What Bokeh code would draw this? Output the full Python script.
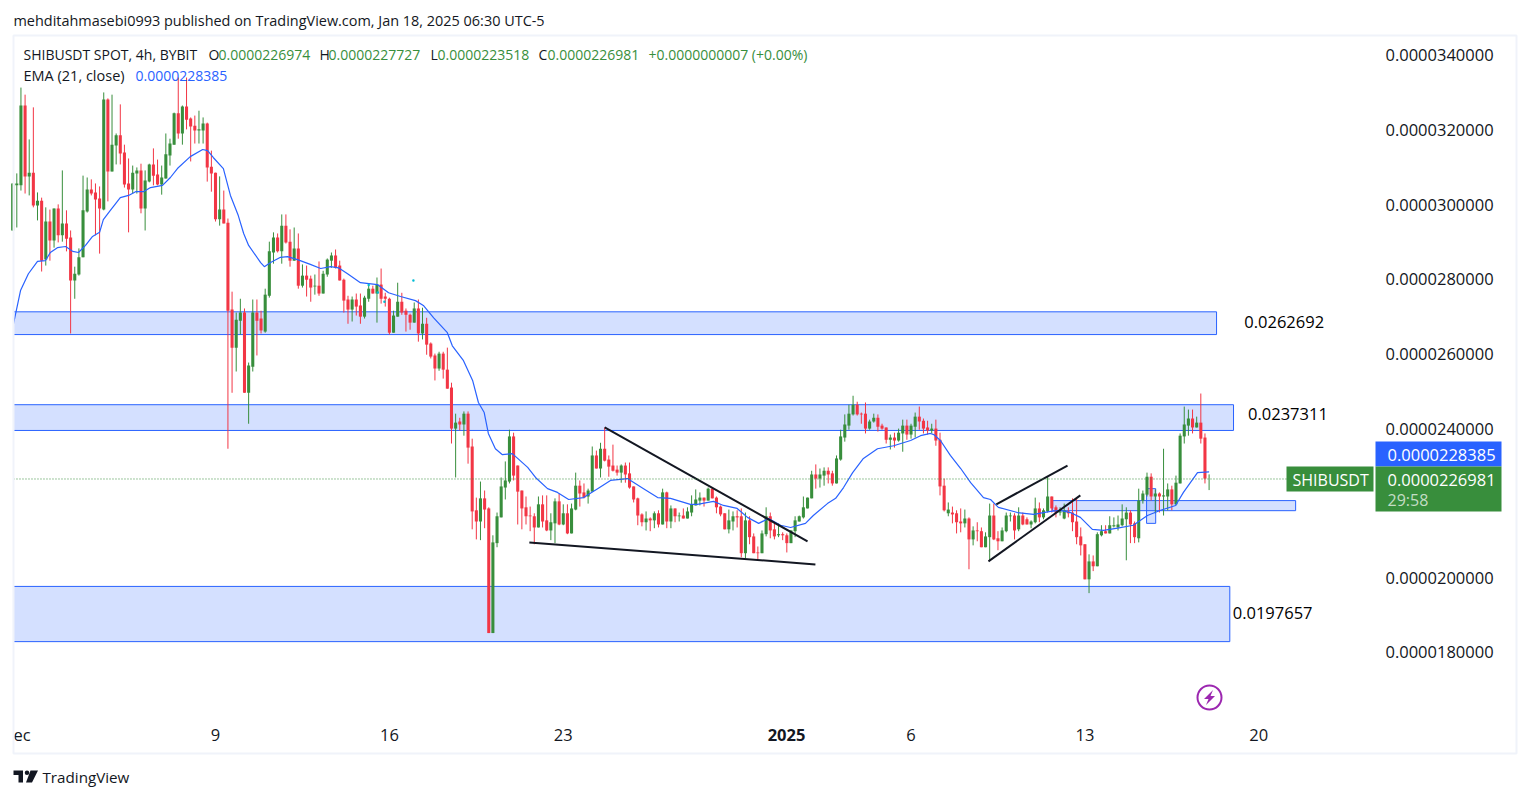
from bokeh.embed import file_html
from bokeh.resources import INLINE
from bokeh.plotting import figure
from bokeh.models import ColumnDataSource, FixedTicker, Label, BoxAnnotation, Range1d
from bokeh.core.properties import value

FONT = "Open Sans"
UP = "#388e3c"
DOWN = "#f23645"
BLUE = "#2962ff"
DARK = "#131722"

# prices are in millionths of a USDT
opens = [29.31,30.52,30.52,32.66,30.76,30.86,29.98,30.11,28.53,29.55,
29.04,29.90,29.18,29.50,29.12,27.97,28.13,28.59,29.82,30.41,
30.33,30.17,29.87,32.82,30.89,31.59,31.86,31.40,30.57,30.41,
30.84,30.92,29.90,30.62,31.08,30.81,30.54,30.70,31.32,31.61,
32.45,31.91,32.63,32.31,32.12,31.99,31.99,32.18,31.02,30.86,
29.61,29.87,29.52,27.19,26.17,26.89,27.11,24.96,25.66,27.11,
26.95,26.60,27.56,28.72,29.12,28.75,29.44,29.01,28.50,28.83,
27.83,28.10,28.02,27.81,27.83,27.62,28.13,28.50,28.64,28.37,
27.99,27.46,27.19,27.46,27.30,27.00,27.48,27.75,27.62,27.86,
27.54,27.48,26.57,27.00,27.40,27.16,27.05,26.84,27.22,26.55,
26.81,26.28,25.96,25.61,26.01,25.58,25.10,24.00,24.19,24.11,
24.40,23.52,21.81,21.51,22.13,21.86,18.52,20.93,21.62,22.42,
22.58,23.79,23.01,22.34,21.89,21.67,21.65,21.35,21.97,21.54,
21.27,21.46,22.05,21.43,21.73,21.19,21.83,22.47,22.29,22.18,
22.31,23.28,22.93,23.46,23.17,23.01,22.90,22.82,23.01,22.80,
22.45,22.13,21.70,21.49,21.59,21.54,21.73,21.43,22.29,21.51,
21.86,21.65,21.67,21.59,21.75,21.94,22.07,22.15,22.07,22.39,
22.15,21.91,21.73,21.30,21.51,21.65,21.65,20.66,21.54,21.11,
20.68,20.66,21.17,21.65,21.30,21.14,21.17,21.14,20.93,21.25,
21.51,21.62,21.86,22.13,22.77,22.66,22.74,22.87,22.80,22.53,
23.17,23.76,24.08,24.38,24.64,24.40,24.40,24.00,24.19,24.29,
24.08,24.03,23.70,23.76,23.68,23.87,24.08,23.84,24.05,24.32,
24.21,24.03,23.95,24.00,23.70,22.47,21.73,21.75,21.73,21.51,
21.46,21.59,21.03,21.27,21.25,20.82,21.09,21.67,21.06,20.98,
21.25,21.65,21.67,21.30,21.67,21.57,21.43,21.49,21.86,21.62,
21.78,22.18,21.89,21.75,21.59,21.78,21.75,21.51,21.11,20.90,
19.96,20.44,20.31,21.14,21.25,21.19,21.38,21.35,21.41,21.57,
21.75,21.46,21.06,22.07,22.23,22.71,22.18,22.26,22.18,22.18,
22.37,21.97,22.53,23.79,24.08,24.27,24.03,24.16,23.76,22.6974]

highs = [30.57,30.84,33.14,32.95,31.75,32.61,30.33,30.19,29.93,29.87,
29.90,30.01,30.92,29.85,29.31,28.34,28.83,30.78,30.73,30.68,
30.57,30.49,33.01,32.85,32.95,31.91,32.69,31.61,31.24,31.05,
31.00,31.10,30.92,31.10,31.51,31.21,31.05,31.91,31.77,32.47,
33.41,32.66,33.41,32.34,32.39,32.52,32.34,32.20,31.45,30.86,
30.76,30.38,29.63,27.67,27.11,27.48,27.22,25.77,27.46,27.46,
27.16,27.75,29.01,29.26,29.23,29.74,29.74,29.34,29.39,29.23,
28.40,28.37,28.10,28.13,28.48,28.23,28.56,28.72,28.80,28.50,
28.02,27.56,27.54,27.62,27.62,27.56,27.83,27.83,28.05,28.29,
27.64,27.51,27.16,27.91,27.64,27.22,27.08,27.38,27.46,27.24,
26.97,26.31,26.01,26.06,26.06,26.17,25.23,24.40,24.29,24.46,
24.46,23.73,22.15,22.58,22.34,21.89,21.14,21.75,22.69,23.12,
23.97,23.89,23.01,22.34,22.18,21.91,21.73,22.18,22.21,22.21,
21.73,22.13,22.26,21.97,21.97,21.99,22.82,22.61,22.53,22.39,
23.52,23.41,23.62,24.03,23.28,23.57,23.01,23.04,23.09,23.09,
22.45,22.15,21.73,21.78,21.62,21.78,21.81,22.39,22.31,21.94,
21.86,21.75,21.86,21.89,22.21,22.37,22.29,22.15,22.42,22.42,
22.18,21.94,21.73,21.83,21.78,21.81,21.86,21.75,21.65,21.19,
20.84,21.27,21.89,21.75,21.46,21.46,21.22,21.19,21.27,21.65,
21.67,22.18,22.15,22.87,23.04,22.93,22.96,22.96,22.87,23.28,
23.97,24.38,24.64,24.88,24.72,24.43,24.70,24.24,24.40,24.38,
24.13,24.03,23.84,23.89,24.00,24.24,24.24,24.13,24.43,24.59,
24.27,24.21,24.13,24.24,23.89,22.66,22.02,21.91,21.81,21.86,
21.83,21.62,21.38,21.49,21.35,21.22,21.99,21.99,21.25,21.35,
21.75,21.75,21.73,21.89,21.75,21.62,21.54,22.15,22.02,21.86,
22.71,22.18,21.94,21.89,21.99,21.89,22.13,22.15,21.35,20.90,
20.63,20.60,21.22,21.41,21.41,21.65,21.62,21.67,21.97,21.89,
21.81,21.51,22.39,22.34,22.82,22.80,22.37,22.29,23.46,22.53,
22.47,22.74,23.87,24.59,24.51,24.51,24.32,24.94,23.87,22.7727]

lows = [29.31,29.39,30.38,30.30,30.25,29.93,29.58,28.21,28.37,28.50,
28.85,28.99,29.01,28.75,26.55,27.48,28.10,28.59,29.79,30.25,
29.18,28.69,29.85,30.09,30.89,31.08,31.08,30.46,29.26,30.30,
30.30,29.77,29.31,30.60,30.52,30.52,30.27,30.70,31.05,31.61,
31.77,31.61,32.02,31.16,31.64,31.64,31.64,30.62,30.35,29.55,
29.44,29.50,23.46,24.96,25.53,26.52,24.96,24.13,25.53,25.96,
26.55,26.57,27.51,28.42,28.72,28.42,28.96,28.34,28.50,27.75,
27.78,27.54,27.40,27.59,27.56,27.62,28.07,28.31,28.29,27.97,
27.11,26.81,26.87,27.03,26.81,26.95,27.40,27.62,26.84,27.35,
27.27,26.52,26.57,27.00,27.05,26.60,26.65,26.84,26.33,26.39,
25.98,25.88,25.29,25.55,25.34,25.07,23.60,22.69,23.95,23.81,
23.06,21.30,21.03,21.01,21.33,18.52,18.52,20.82,21.62,22.10,
22.53,22.61,21.43,21.30,21.43,21.25,20.90,21.35,21.35,21.25,
21.01,20.93,21.41,21.41,21.17,21.19,21.81,21.91,22.13,21.99,
22.31,22.93,22.69,23.12,22.71,22.85,22.74,22.55,22.55,22.39,
22.02,21.41,21.38,21.27,21.25,21.33,21.35,21.43,21.33,21.33,
21.49,21.51,21.59,21.59,21.65,21.94,21.94,21.91,22.07,22.13,
21.73,21.65,21.30,21.19,21.27,21.35,20.55,20.52,20.90,20.66,
20.50,20.66,21.11,21.06,21.03,21.09,21.01,20.68,20.93,21.09,
21.51,21.59,21.86,22.13,22.39,22.42,22.47,22.53,22.47,22.53,
23.14,23.65,23.97,24.35,24.35,24.13,23.87,23.97,24.16,23.92,
23.97,23.60,23.44,23.49,23.65,23.38,23.70,23.73,23.76,23.97,
23.87,23.84,23.87,23.54,22.21,21.78,21.65,21.46,21.19,21.22,
21.35,20.23,20.87,20.98,20.82,20.82,20.47,21.01,20.74,20.98,
21.22,21.51,21.03,21.25,21.41,21.43,21.33,21.46,21.49,21.57,
21.75,21.75,21.62,21.67,21.57,21.62,21.25,20.90,20.60,19.96,
19.59,20.18,20.31,21.11,21.19,21.19,21.35,21.27,21.38,20.47,
20.93,20.93,20.95,21.99,22.18,22.07,21.73,21.75,21.67,21.81,
21.81,21.94,22.53,23.60,23.81,23.87,24.03,23.60,22.53,22.3518]

closes = [30.57,30.57,32.66,30.76,30.86,29.98,30.11,28.50,29.55,29.04,
29.90,29.18,29.50,29.09,27.97,28.15,28.59,29.85,30.41,30.30,
30.14,29.90,32.82,30.89,31.61,31.86,31.37,30.54,30.41,30.86,
30.92,29.90,30.65,31.08,30.78,30.54,30.73,31.35,31.64,32.45,
31.91,32.63,32.28,32.10,31.99,32.02,32.18,31.00,30.84,29.61,
29.87,29.50,27.16,26.17,26.92,27.11,24.96,25.69,27.11,26.89,
26.63,27.59,28.75,29.12,28.75,29.44,28.99,28.50,28.83,27.83,
28.10,27.99,27.78,27.83,27.62,28.15,28.53,28.64,28.31,27.97,
27.43,27.19,27.46,27.27,27.00,27.51,27.75,27.62,27.86,27.48,
27.48,26.57,27.03,27.40,27.11,27.05,26.84,27.22,26.55,26.81,
26.25,25.93,25.61,26.01,25.58,25.07,24.00,24.16,24.11,24.40,
23.49,21.78,21.51,22.13,21.83,18.52,20.95,21.65,22.45,22.61,
23.79,22.74,22.31,21.86,21.65,21.65,21.35,21.97,21.51,21.27,
21.49,22.05,21.43,21.73,21.19,21.86,22.47,22.26,22.15,22.34,
23.28,22.93,23.46,23.14,22.98,22.87,22.82,23.01,22.77,22.42,
22.10,21.67,21.49,21.59,21.54,21.73,21.43,22.29,21.51,21.86,
21.65,21.67,21.59,21.78,21.97,22.10,22.15,22.07,22.39,22.13,
21.89,21.70,21.30,21.54,21.65,21.62,20.66,21.54,21.09,20.66,
20.66,21.19,21.65,21.27,21.11,21.17,21.14,20.93,21.27,21.54,
21.65,21.89,22.15,22.77,22.66,22.77,22.87,22.77,22.53,23.20,
23.79,24.11,24.40,24.64,24.38,24.38,24.00,24.19,24.29,24.05,
24.00,23.70,23.76,23.68,23.89,24.08,23.84,24.08,24.32,24.19,
24.00,23.95,24.00,23.68,22.45,21.81,21.83,21.70,21.49,21.46,
21.59,21.03,21.27,21.25,20.82,21.11,21.67,21.03,20.98,21.27,
21.67,21.67,21.27,21.67,21.43,21.43,21.51,21.86,21.62,21.81,
22.18,21.86,21.75,21.78,21.81,21.73,21.49,21.09,20.87,19.96,
20.44,20.31,21.17,21.25,21.19,21.41,21.41,21.43,21.59,21.75,
21.43,21.09,22.07,22.26,22.71,22.18,22.26,22.18,22.21,22.37,
21.97,22.55,23.81,24.11,24.27,24.03,24.16,23.73,22.66,22.6981]

candle_index = list(range(-1, len(opens) - 1))

ema_index = [-0.8,0.9,2.8,5,6.9,8.1,9.8,11.8,13.5,14.9,16.6,18.3,20,20.9,22.6,25,27,28.7,30.6,32.3,
35.2,37.1,38.8,41.9,44.9,46.1,47.5,49.9,51.6,53.5,54.8,56,58.9,59.8,61.3,63.7,65.4,67.8,70.9,73.4,
75.8,77.7,79.9,83,87.1,89.8,92.7,96.3,98.2,100.7,104,105.2,107.9,110.1,111.5,112.9,113.9,115.6,117.3,119.7,
123.4,125.3,128.2,130.6,133.3,136.9,140.3,143.4,147.5,151.4,154.8,157.9,162.7,164.4,168.3,170.7,174,176.5,179.2,181.6,
184.5,186.9,190.5,192.4,195.8,197.8,199.7,201.9,204.5,207.9,211.8,215.9,218.3,220.7,221.5,223.1,225.5,228,230.4,233.5,
235.2,237.1,241.7,245.6,249.7,252.1,254.5,256.9,259.8,262.5,265.9,269.7,273.1,276.3,279.9,281.8,285.2,288]
ema_value = [26.81,27.70,28.15,28.48,28.50,28.72,28.85,28.88,28.75,28.72,28.91,29.15,29.26,29.60,29.85,30.19,30.25,30.35,30.35,30.46,
30.52,30.73,30.97,31.29,31.48,31.45,31.26,30.97,30.25,29.71,29.23,28.91,28.45,28.34,28.45,28.59,28.61,28.53,28.40,28.29,
28.34,28.31,28.15,27.91,27.86,27.64,27.54,27.43,27.30,26.97,26.57,26.22,25.82,25.29,24.70,24.43,23.87,23.46,23.30,23.33,
22.96,22.69,22.39,22.29,22.10,22.15,22.39,22.61,22.66,22.39,22.15,22.13,21.97,21.97,22.05,21.94,21.86,21.62,21.46,21.59,
21.41,21.35,21.46,21.67,21.99,22.13,22.42,22.82,23.20,23.46,23.54,23.68,23.81,23.87,23.84,23.68,23.28,22.93,22.55,22.15,
22.10,21.89,21.75,21.70,21.78,21.81,21.75,21.62,21.30,21.27,21.33,21.41,21.67,21.81,21.94,22.29,22.82,22.8385]

zone_left = [-0.8, -0.8, -0.8, 250.2, 272.9]
zone_right = [289.8, 293.9, 293.0, 308.9, 275.1]
zone_top = [27.13, 24.64, 19.77, 22.07, 22.39]
zone_bottom = [26.52, 23.95, 18.29, 21.80, 21.46]

trend_x0 = [142, 123.8, 236.6, 234.7]
trend_y0 = [24.03, 20.95, 21.97, 20.44]
trend_x1 = [191, 192.9, 253.8, 256.9]
trend_y1 = [20.98, 20.36, 23.01, 22.21]

zone_text = ["0.0262692", "0.0237311", "0.0197657"]
zone_text_x = [296.5, 297.4, 293.7]
zone_text_y = [26.87, 24.40, 19.06]

teal_x = [95.8, 87.2, 85.0, 88.8]
teal_y = [27.97, 27.65, 27.85, 27.40]

price_ticks = [18, 20, 24, 26, 28, 30, 32, 34]
price_labels = {18: "0.0000180000", 20: "0.0000200000", 24: "0.0000240000", 26: "0.0000260000",
                28: "0.0000280000", 30: "0.0000300000", 32: "0.0000320000", 34: "0.0000340000"}
time_ticks = [1.3, 48, 90, 132, 216, 258, 300]
time_labels = {1.3: "ec", 48: "9", 90: "16", 132: "23", 216: "6", 258: "13", 300: "20"}
price_line = 22.649

src = ColumnDataSource(dict(
    x=candle_index, o=opens, h=highs, l=lows, c=closes,
    top=[max(a, b) for a, b in zip(opens, closes)],
    bottom=[min(a, b) for a, b in zip(opens, closes)],
    color=[UP if c >= o else DOWN for o, c in zip(opens, closes)],
))

XMIN, XMAX, YMIN, YMAX = -3.937, 363.46, 14.30, 35.474
WIDTH, HEIGHT = 1521, 790

p = figure(width=WIDTH, height=HEIGHT, output_backend="svg", toolbar_location=None,
           x_range=Range1d(XMIN, XMAX), y_range=Range1d(YMIN, YMAX),
           y_axis_location="right", min_border=0, outline_line_color=None,
           background_fill_color="white", border_fill_color="white")
p.grid.visible = False


def cx(px):
    return XMIN + px / WIDTH * (XMAX - XMIN)


def cy(py):
    return YMAX - py / HEIGHT * (YMAX - YMIN)


for ax in (p.xaxis[0], p.yaxis[0]):
    ax.axis_line_color = None
    ax.major_tick_line_color = None
    ax.minor_tick_line_color = None
    ax.major_label_text_font = FONT
    ax.major_label_text_font_size = "16.5px"
    ax.major_label_text_color = DARK
p.yaxis[0].fixed_location = 328.19
p.yaxis[0].ticker = FixedTicker(ticks=price_ticks)
p.yaxis[0].major_label_overrides = price_labels
p.yaxis[0].major_label_standoff = 4
p.xaxis[0].fixed_location = 16.36
p.xaxis[0].ticker = FixedTicker(ticks=time_ticks)
p.xaxis[0].major_label_overrides = time_labels
p.xaxis[0].major_label_standoff = 3

p.quad(left=zone_left, right=zone_right, top=zone_top, bottom=zone_bottom,
       fill_color=BLUE, fill_alpha=0.2, line_color=BLUE, line_width=1)
p.segment("x", "h", "x", "l", source=src, line_color="color", line_width=1)
p.vbar(x="x", top="top", bottom="bottom", width=0.74, source=src, fill_color="color", line_color=None)
p.line(ema_index, ema_value, line_color=BLUE, line_width=1.2)
p.segment(trend_x0, trend_y0, trend_x1, trend_y1, line_color=DARK, line_width=2)
p.scatter(teal_x, teal_y, size=2.5, marker="circle", fill_color="#00bcd4", line_color=None)
p.line([-0.8, 306.7], [price_line, price_line], line_color=UP, line_width=1, line_dash="1 2")
p.text(zone_text_x, zone_text_y, text=zone_text, text_font=value(FONT), text_font_size="16.5px",
       text_color="black", text_baseline="middle")

# lightning badge
PURPLE = "#9c27b0"
p.scatter([cx(1209)], [cy(697)], size=24, marker="circle", fill_color="white", line_color=PURPLE, line_width=2)
bolt = [(1212.5, 689.5), (1203.5, 698.5), (1208, 698.5), (1205.5, 704.5), (1214.5, 695.5), (1210, 695.5)]
p.patch([cx(a) for a, b in bolt], [cy(b) for a, b in bolt], fill_color=PURPLE, line_color=None)

# TradingView mark
logo_t = [(13, 770), (22.5, 770), (22.5, 782), (18, 782), (18, 774.5), (13, 774.5)]
logo_v = [(30, 770), (37.5, 770), (31.5, 782), (25.5, 782)]
p.patch([cx(a) for a, b in logo_t], [cy(b) for a, b in logo_t], fill_color=DARK, line_color=None)
p.patch([cx(a) for a, b in logo_v], [cy(b) for a, b in logo_v], fill_color=DARK, line_color=None)
p.scatter([cx(26.5)], [cy(772.2)], size=4.5, marker="circle", fill_color=DARK, line_color=None)


def lab(px, py, txt, color=DARK, size="14px", style="normal", align="left"):
    p.add_layout(Label(x=px, y=py, x_units="canvas", y_units="canvas", text=txt,
                       text_color=color, text_font=FONT, text_font_size=size, text_font_style=style,
                       text_align=align, text_baseline="middle"))


def box(left, right, top, bottom, fill=None, line=None, lw=1):
    p.add_layout(BoxAnnotation(left=left, right=right, top=top, bottom=bottom,
                               left_units="canvas", right_units="canvas", top_units="canvas",
                               bottom_units="canvas", fill_color=fill, fill_alpha=1 if fill else 0,
                               line_color=line, line_width=lw, line_alpha=1 if line else 0))


box(13, 1516, 35, 753, None, "#f0f3fa", 2)
box(1286, 1373, 466, 491, UP)
box(1375, 1501, 441, 466, BLUE)
box(1375, 1501, 466, 511, UP)

lab(13, 20, "mehditahmasebi0993 published on TradingView.com, Jan 18, 2025 06:30 UTC-5", size="14.45px")
lab(23, 54, "SHIBUSDT SPOT, 4h, BYBIT")
for px, t1, px2, t2 in [(208, "O", 218, "0.0000226974"), (319, "H", 328, "0.0000227727"),
                        (430, "L", 437, "0.0000223518"), (538, "C", 547, "0.0000226981")]:
    lab(px, 54, t1)
    lab(px2, 54, t2, UP)
lab(648, 54, "+0.0000000007 (+0.00%)", UP)
lab(23, 75, "EMA (21, close)", size="14.5px")
lab(135, 75, "0.0000228385", BLUE)

lab(1292, 479, "SHIBUSDT", "white", "16px")
lab(1387, 454, "0.0000228385", "white", "16.5px")
lab(1387, 479, "0.0000226981", "white", "16.5px")
lab(1387, 499, "29:58", "#c4ddc5", "16px")
lab(786, 734, "2025", DARK, "16.5px", "bold", "center")
lab(42, 776, "TradingView", DARK, "15.2px")

open("out.html", "w").write(file_html(p, INLINE))
